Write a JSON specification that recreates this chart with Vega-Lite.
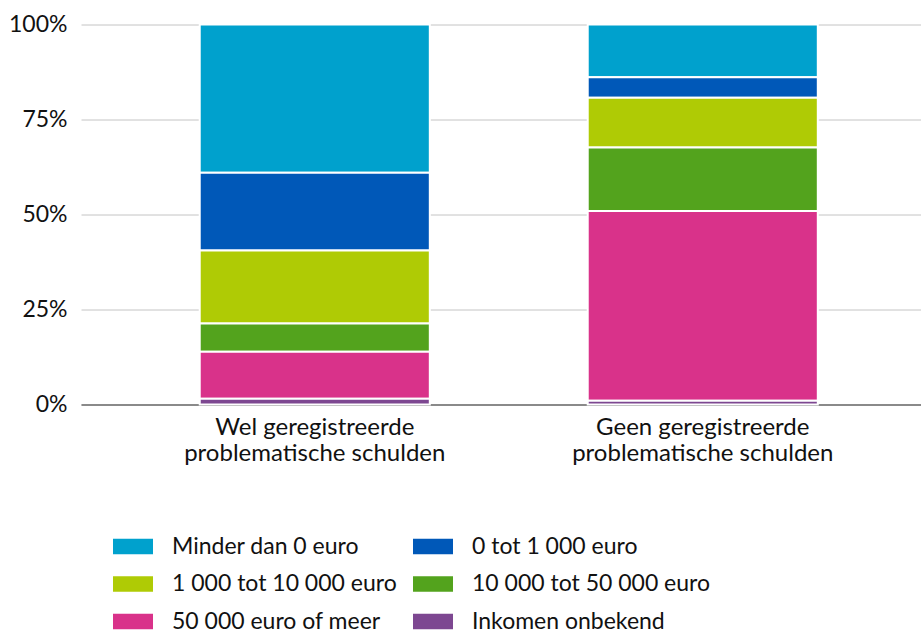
{
  "$schema": "https://vega.github.io/schema/vega-lite/v6.json",
  "autosize": "none",
  "padding": {"left": 81, "top": 24.5, "right": 0, "bottom": 228.5},
  "width": 840,
  "height": 380,
  "background": "white",
  "data": {
    "values": [
      {"groep": "Wel geregistreerde problematische schulden", "inkomen": "Minder dan 0 euro", "volgorde": 6, "aandeel": 39.0},
      {"groep": "Wel geregistreerde problematische schulden", "inkomen": "0 tot 1 000 euro", "volgorde": 5, "aandeel": 20.5},
      {"groep": "Wel geregistreerde problematische schulden", "inkomen": "1 000 tot 10 000 euro", "volgorde": 4, "aandeel": 19.2},
      {"groep": "Wel geregistreerde problematische schulden", "inkomen": "10 000 tot 50 000 euro", "volgorde": 3, "aandeel": 7.4},
      {"groep": "Wel geregistreerde problematische schulden", "inkomen": "50 000 euro of meer", "volgorde": 2, "aandeel": 12.4},
      {"groep": "Wel geregistreerde problematische schulden", "inkomen": "Inkomen onbekend", "volgorde": 1, "aandeel": 1.5},
      {"groep": "Geen geregistreerde problematische schulden", "inkomen": "Minder dan 0 euro", "volgorde": 6, "aandeel": 13.9},
      {"groep": "Geen geregistreerde problematische schulden", "inkomen": "0 tot 1 000 euro", "volgorde": 5, "aandeel": 5.4},
      {"groep": "Geen geregistreerde problematische schulden", "inkomen": "1 000 tot 10 000 euro", "volgorde": 4, "aandeel": 13.1},
      {"groep": "Geen geregistreerde problematische schulden", "inkomen": "10 000 tot 50 000 euro", "volgorde": 3, "aandeel": 16.7},
      {"groep": "Geen geregistreerde problematische schulden", "inkomen": "50 000 euro of meer", "volgorde": 2, "aandeel": 49.9},
      {"groep": "Geen geregistreerde problematische schulden", "inkomen": "Inkomen onbekend", "volgorde": 1, "aandeel": 1.0}
    ]
  },
  "mark": {"type": "bar", "stroke": "white", "strokeWidth": 2},
  "encoding": {
    "x": {
      "field": "groep",
      "type": "nominal",
      "sort": ["Wel geregistreerde problematische schulden", "Geen geregistreerde problematische schulden"],
      "scale": {"paddingInner": 0.407, "paddingOuter": 0.286, "align": 0.535},
      "axis": {
        "title": null,
        "labelAngle": 0,
        "labelExpr": "split(replace(datum.label, ' problematische', '|problematische'), '|')",
        "labelFontSize": 24,
        "labelLineHeight": 26,
        "labelPadding": 11,
        "labelLimit": 500,
        "ticks": false,
        "domain": true,
        "domainColor": "#8a8a8a",
        "domainWidth": 2,
        "grid": false
      }
    },
    "y": {
      "field": "aandeel",
      "type": "quantitative",
      "stack": "zero",
      "scale": {"domain": [0, 100], "nice": false},
      "axis": {
        "title": null,
        "values": [0, 25, 50, 75, 100],
        "labelExpr": "datum.value + '%'",
        "ticks": false,
        "domain": false,
        "grid": true,
        "gridColor": "#c4c4c4",
        "gridWidth": 1,
        "labelPadding": 14
      }
    },
    "color": {
      "field": "inkomen",
      "type": "nominal",
      "scale": {
        "domain": ["Minder dan 0 euro", "0 tot 1 000 euro", "1 000 tot 10 000 euro", "10 000 tot 50 000 euro", "50 000 euro of meer", "Inkomen onbekend"],
        "range": ["#00A1CD", "#0058B8", "#AFCB05", "#53A31D", "#D9328A", "#7D4791"]
      },
      "legend": {
        "title": null,
        "orient": "none",
        "legendX": 32,
        "legendY": 502,
        "columns": 2,
        "direction": "horizontal",
        "gridAlign": "each",
        "symbolType": "M-1,-0.39H1V0.39H-1Z",
        "symbolSize": 1600,
        "symbolStrokeWidth": 0,
        "symbolOpacity": 1,
        "labelOffset": 19,
        "rowPadding": 5.5,
        "columnPadding": 16
      }
    },
    "order": {"field": "volgorde", "type": "quantitative", "sort": "ascending"}
  },
  "config": {
    "view": {"stroke": null},
    "font": "Lato",
    "axis": {"labelFont": "Lato", "labelFontSize": 23, "labelColor": "#111111"},
    "legend": {"labelFont": "Lato", "labelFontSize": 23, "labelColor": "#111111", "labelLimit": 400}
  }
}
